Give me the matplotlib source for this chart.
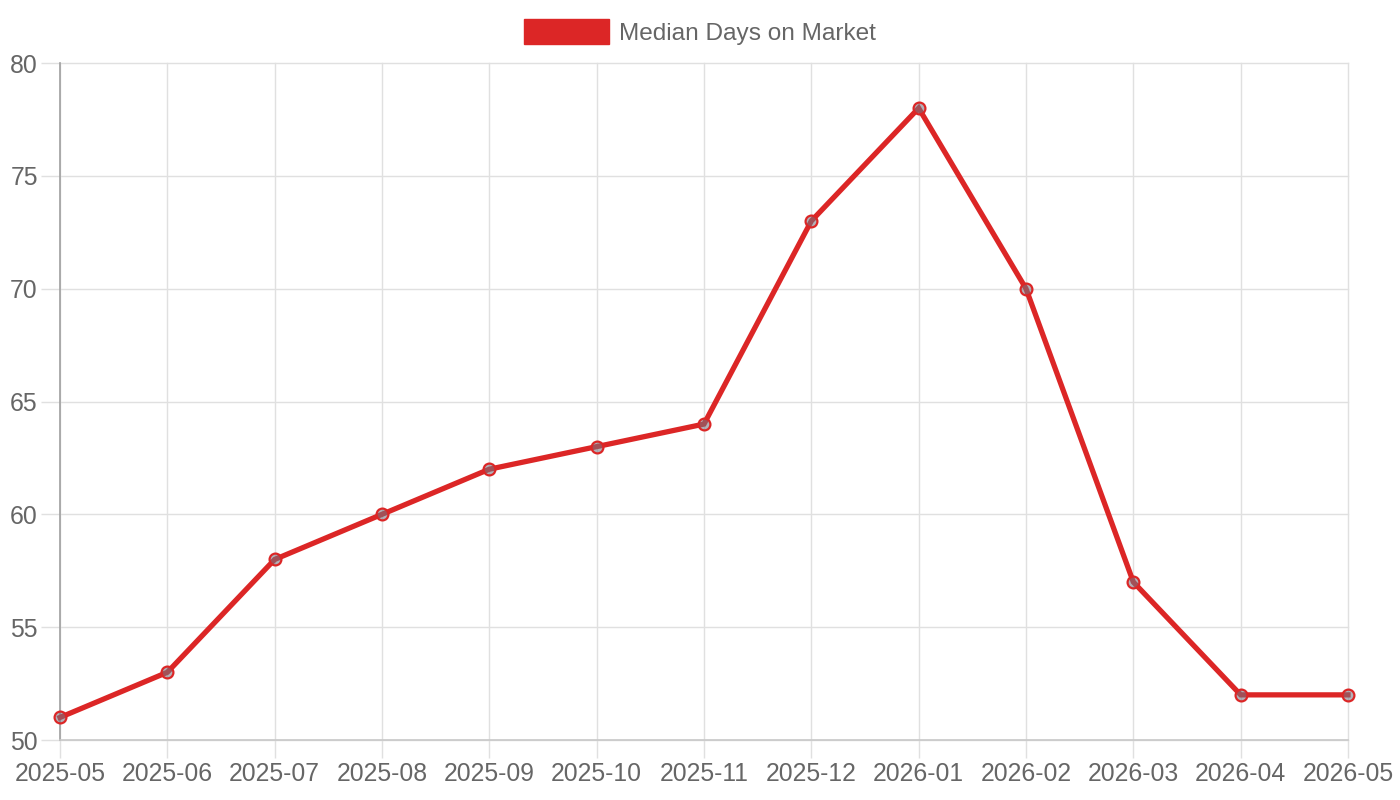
import matplotlib
matplotlib.use("Agg")
import matplotlib.pyplot as plt
from matplotlib.patches import Patch

months = ["2025-05", "2025-06", "2025-07", "2025-08", "2025-09", "2025-10", "2025-11",
          "2025-12", "2026-01", "2026-02", "2026-03", "2026-04", "2026-05"]
median_days = [51, 53, 58, 60, 62, 63, 64, 73, 78, 70, 57, 52, 52]
y_ticks = [50, 55, 60, 65, 70, 75, 80]
series_label = "Median Days on Market"

plt.rcParams['font.family'] = ['Liberation Sans', 'DejaVu Sans']
RED = "#dc2626"
TXT = "#666666"
GRID = "#e0e0e0"

fig = plt.figure(figsize=(14, 8), dpi=100)
ax = fig.add_axes([60/1400, 60/800, 1288/1400, 677/800])

x = list(range(len(months)))
ax.plot(x, median_days, color=RED, linewidth=3.8, solid_joinstyle='miter', zorder=3, clip_on=False)
ax.plot(x, median_days, linestyle='none', marker='o', markersize=8.5,
        markerfacecolor=(0.45, 0.45, 0.5, 0.55), markeredgecolor=RED, markeredgewidth=1.6,
        zorder=4, clip_on=False)

ax.set_xlim(0, len(months) - 1)
ax.set_ylim(50, 80)
ax.set_xticks(x)
ax.set_xticklabels(months)
ax.set_yticks(y_ticks)
ax.set_yticklabels([str(v) for v in y_ticks])

ax.grid(True, color=GRID, linewidth=1.0, zorder=0, clip_on=False)
ax.tick_params(axis='x', length=13, width=1.0, color=GRID, labelcolor=TXT, labelsize=17.8, pad=3)
ax.tick_params(axis='y', length=14, width=1.0, color=GRID, labelcolor=TXT, labelsize=17.8, pad=2)

for s in ['top', 'right']:
    ax.spines[s].set_visible(False)
ax.spines['left'].set_color('#a0a0a0')
ax.spines['left'].set_linewidth(1.2)
ax.spines['bottom'].set_color('#c8c8c8')
ax.spines['bottom'].set_linewidth(1.2)

handle = Patch(facecolor=RED, edgecolor=RED)
fig.legend([handle], [series_label], loc='center', bbox_to_anchor=(0.5, 1 - 32/800),
           frameon=False, fontsize=17.6, labelcolor=TXT, handlelength=3.5, handleheight=1.2,
           handletextpad=0.4)

fig.savefig("out.png", dpi=100)
